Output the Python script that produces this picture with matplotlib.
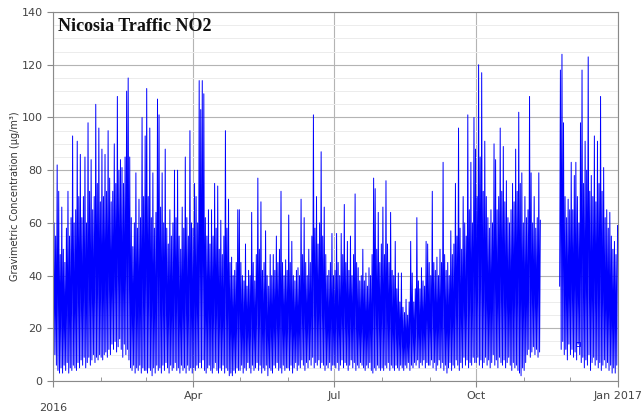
import numpy as np
import matplotlib
matplotlib.use("Agg")
import matplotlib.pyplot as plt
import matplotlib.dates as mdates

nan = np.nan

# === Daily peak / trough of hourly NO2 (ug/m3) ===
jan_max = [60, 55, 82, 72, 48, 66, 50, 45, 58, 72, 55, 62, 93, 60, 65, 91, 70, 86, 62, 70,
           85, 60, 98, 72, 84, 65, 70, 105, 75, 96, 68]
jan_min = [8, 10, 6, 4, 3, 5, 3, 6, 4, 7, 3, 5, 4, 6, 5, 4, 7, 5, 8, 6,
           9, 5, 7, 9, 6, 8, 10, 7, 9, 8, 10]
feb_max = [88, 70, 86, 72, 95, 77, 68, 72, 90, 75, 108, 80, 84, 81, 75, 85, 110, 115, 85, 62,
           51, 60, 79, 58, 69, 62, 100, 70, 93]
feb_min = [9, 8, 10, 11, 9, 12, 10, 14, 12, 15, 11, 13, 16, 12, 9, 14, 10, 12, 8, 5,
           4, 6, 3, 5, 4, 6, 3, 5, 4]
mar_max = [111, 70, 96, 62, 79, 58, 64, 107, 101, 66, 79, 60, 88, 58, 52, 65, 55, 60, 80, 62,
           80, 55, 50, 66, 58, 85, 62, 55, 95, 60, 58]
mar_min = [4, 3, 5, 4, 2, 5, 3, 6, 4, 5, 3, 6, 4, 7, 5, 3, 6, 4, 5, 7,
           4, 5, 3, 6, 4, 5, 3, 6, 4, 5, 3]
apr_max = [75, 70, 60, 114, 103, 114, 109, 62, 55, 65, 52, 65, 55, 75, 58, 74, 50, 61, 48, 55,
           95, 58, 69, 45, 47, 40, 42, 45, 65, 65]
apr_min = [5, 4, 6, 5, 7, 5, 8, 4, 3, 5, 6, 4, 3, 5, 7, 4, 3, 5, 4, 6,
           3, 5, 4, 2, 3, 2, 4, 3, 5, 4]
may_max = [45, 40, 38, 52, 36, 42, 40, 64, 45, 38, 48, 77, 50, 68, 42, 45, 57, 40, 36, 48,
           40, 48, 42, 55, 45, 50, 72, 45, 40, 46, 42]
may_min = [4, 6, 3, 5, 4, 7, 5, 3, 6, 4, 5, 7, 4, 6, 3, 5, 4, 6, 2, 5,
           4, 3, 6, 5, 7, 4, 5, 3, 6, 4, 5]
jun_max = [63, 45, 53, 40, 38, 42, 43, 40, 69, 48, 62, 45, 40, 50, 45, 55, 101, 58, 70, 52,
           60, 87, 55, 66, 48, 40, 42, 45, 56, 40]
jun_min = [5, 4, 6, 3, 5, 7, 4, 6, 5, 8, 6, 4, 7, 5, 8, 6, 9, 5, 7, 6,
           8, 5, 7, 6, 4, 6, 5, 7, 4, 6]
jul_max = [42, 56, 45, 40, 56, 48, 67, 45, 53, 42, 55, 40, 48, 71, 45, 43, 38, 40, 50, 38,
           41, 36, 43, 40, 48, 77, 73, 50, 64, 45, 52]
jul_min = [6, 5, 7, 4, 6, 8, 5, 7, 6, 4, 6, 8, 5, 7, 4, 6, 5, 7, 6, 5,
           4, 6, 5, 7, 4, 3, 5, 4, 6, 5, 4]
aug_max = [66, 48, 76, 52, 45, 64, 42, 40, 53, 35, 41, 30, 41, 28, 26, 31, 25, 30, 53, 41,
           30, 35, 62, 38, 35, 43, 38, 36, 53, 52, 45]
aug_min = [5, 4, 6, 5, 7, 4, 6, 5, 4, 6, 5, 4, 6, 5, 4, 6, 5, 7, 4, 6,
           5, 7, 6, 8, 5, 7, 6, 8, 5, 7, 6]
sep_max = [40, 72, 45, 42, 47, 40, 50, 45, 83, 48, 42, 45, 40, 57, 48, 52, 75, 55, 96, 58,
           50, 70, 60, 55, 101, 65, 83, 60, 100, 88]
sep_min = [6, 8, 5, 7, 4, 6, 8, 5, 7, 4, 6, 3, 5, 7, 4, 6, 5, 8, 6, 4,
           7, 5, 9, 6, 8, 5, 7, 6, 9, 7]
oct_max = [70, 120, 85, 117, 72, 91, 70, 62, 58, 65, 60, 90, 84, 65, 70, 96, 72, 89, 68, 76,
           62, 60, 65, 75, 68, 88, 72, 102, 75, 79, 60]
oct_min = [7, 9, 6, 8, 5, 7, 9, 6, 8, 5, 7, 10, 6, 8, 5, 9, 7, 6, 8, 5,
           7, 9, 6, 4, 7, 5, 6, 4, 3, 2, 5]
nov_max = [70, 62, 65, 108, 79, 60, 70, 58, 62, 79, 61,
           nan, nan, nan, nan, nan, nan, nan, nan, nan, nan, nan, nan,
           118, 124, 98, 70, 62, 69, 65]
nov_min = [4, 7, 10, 12, 9, 11, 13, 10, 12, 9, 11,
           nan, nan, nan, nan, nan, nan, nan, nan, nan, nan, nan, nan,
           36, 12, 15, 10, 12, 8, 14]
dec_max = [83, 65, 78, 83, 70, 60, 98, 118, 75, 91, 80, 123, 72, 78, 70, 93, 68, 91, 75, 108,
           72, 81, 62, 65, 58, 64, 55, 50, 53, 48, 59]
dec_min = [10, 12, 9, 11, 8, 14, 10, 7, 9, 5, 8, 6, 10, 4, 7, 9, 6, 8, 5, 7,
           4, 6, 8, 5, 7, 4, 6, 3, 5, 3, 6]

# single isolated reading shown as a marker
iso_time = np.datetime64("2016-12-06T06")
iso_value = 14

daily_max = np.array(jan_max + feb_max + mar_max + apr_max + may_max + jun_max +
                     jul_max + aug_max + sep_max + oct_max + nov_max + dec_max, dtype=float)
daily_min = np.array(jan_min + feb_min + mar_min + apr_min + may_min + jun_min +
                     jul_min + aug_min + sep_min + oct_min + nov_min + dec_min, dtype=float)

days = np.arange("2016-01-01", "2017-01-01", dtype="datetime64[D]")
assert len(days) == len(daily_max) == len(daily_min), (len(daily_max), len(daily_min))

t_low = days.astype("datetime64[h]") + np.timedelta64(5, "h")
t_high = days.astype("datetime64[h]") + np.timedelta64(17, "h")
times = np.empty(2 * len(days), dtype="datetime64[h]")
times[0::2] = t_low
times[1::2] = t_high
values = np.empty(2 * len(days))
values[0::2] = daily_min
values[1::2] = daily_max

# === Plot ===
fig = plt.figure(figsize=(6.43, 4.17), dpi=100)
ax = fig.add_axes([0.0824, 0.0863, 0.8787, 0.8847])

ax.plot(times.astype("datetime64[m]"), values, color="#0000ff", lw=0.7)
ax.plot([iso_time], [iso_value], marker="s", ms=3, mfc="none", mec="#0000ff", mew=0.6, ls="none")

ax.set_xlim(np.datetime64("2016-01-01"), np.datetime64("2017-01-01"))
ax.set_ylim(0, 140)

major = [np.datetime64("2016-01-01"), np.datetime64("2016-04-01"), np.datetime64("2016-07-01"),
         np.datetime64("2016-10-01"), np.datetime64("2017-01-01")]
ax.set_xticks(major)
ax.set_xticklabels(["\n2016", "Apr", "Jul", "Oct", "Jan 2017"])
ax.xaxis.set_minor_locator(mdates.MonthLocator())
ax.set_yticks(np.arange(0, 141, 20))
ax.set_yticks(np.arange(0, 141, 5), minor=True)

ax.grid(True, which="major", color="#b4b4b4", lw=0.8)
ax.grid(True, which="minor", axis="y", color="#ececec", lw=0.7)
ax.set_axisbelow(True)

ax.tick_params(axis="both", which="major", labelsize=8, labelcolor="#444444", color="#888888",
               length=4, width=0.8)
ax.tick_params(axis="x", which="minor", direction="in", length=3, color="#888888")
ax.tick_params(axis="y", which="minor", length=0)
for s in ax.spines.values():
    s.set_color("#8a8a8a")
    s.set_linewidth(0.8)

ax.set_ylabel("Gravimetric Concentration (\u03bcg/m\u00b3)", fontsize=7, color="#333333", labelpad=1)
ax.text(0.009, 0.985, "Nicosia Traffic NO2", transform=ax.transAxes, ha="left", va="top",
        fontsize=13, fontweight="bold", family="Liberation Serif", color="#111111")

fig.savefig("out.png", dpi=100)
